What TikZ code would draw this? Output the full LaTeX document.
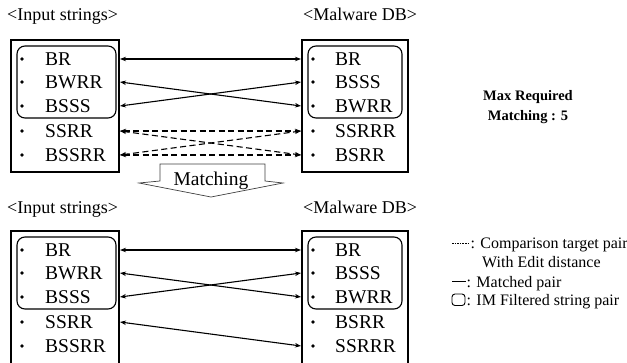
\documentclass[tikz,border=0pt]{standalone}
\usepackage{fontspec}
\setmainfont{Liberation Serif}
\usetikzlibrary{arrows.meta}

\tikzset{
  frame/.style={draw, line width=1.6pt},
  imbox/.style={draw, line width=1.1pt, rounded corners=8pt},
  item/.style={anchor=base west, inner sep=0pt, font=\fontsize{19.5}{20}\selectfont},
  heading/.style={anchor=base west, inner sep=0pt, font=\fontsize{18}{20}\selectfont},
  legend/.style={anchor=base west, inner sep=0pt, font=\fontsize{16}{18}\selectfont},
  tip/.tip={Stealth[length=6pt,width=4.5pt]},
  pair/.style={line width=1.1pt, tip-tip},
  cand/.style={pair, dash pattern=on 6pt off 3.5pt},
  dot/.style={circle, fill, inner sep=0pt, minimum size=3.8pt},
}

\begin{document}
\begin{tikzpicture}[x=1pt, y=-1pt]
\useasboundingbox (0,0) rectangle (627,362);

% ---------- upper panel: before matching ----------
\node[heading] (tin) at (7,20) {<Input strings>};
\node[heading] (tdb) at (303,20) {<Malware DB>};
\draw[frame] (11,40) rectangle (119,172);
\draw[frame] (302,40) rectangle (408,172);
\draw[imbox] (17,46) rectangle (116,118);
\draw[imbox] (308,46) rectangle (402,118);
\foreach \i/\y/\l/\r in {1/59/BR/BR, 2/82/BWRR/BSSS, 3/106/BSSS/BWRR, 4/131/SSRR/SSRRR, 5/155/BSSRR/BSRR}{
  \node[dot] (tdl\i) at (22,\y) {};
  \node[dot] (tdr\i) at (313,\y) {};
  \node[item] (til\i) at (45,\y+6.5) {\l};
  \node[item] (tir\i) at (335,\y+6.5) {\r};
  \coordinate (tL\i) at (120,\y);
  \coordinate (tR\i) at (301,\y);
}
\draw[pair] (tL1) -- (tR1);
\draw[pair] (tL2) -- (tR3);
\draw[pair] (tL3) -- (tR2);
\draw[cand] (tL4) -- (tR4);
\draw[cand] (tL4) -- (tR5);
\draw[cand] (tL5) -- (tR5);
\draw[cand] (tL5) -- (tR4);

\node[font=\bfseries\fontsize{14.5}{20}\selectfont, align=center] (maxreq) at (528,107) {Max Required\\Matching : 5};

% ---------- matching arrow ----------
\draw[line width=0.7pt, draw=black!75, fill=white]
  (160,181) -- (160,164) -- (265,164) -- (265,181) -- (283,183) -- (211,197)
  -- (139,183) -- cycle;
\node[font=\fontsize{19.5}{20}\selectfont, inner sep=0pt] (match) at (211,181) {Matching};

% ---------- lower panel: after matching ----------
\node[heading] (bin) at (7,213) {<Input strings>};
\node[heading] (bdb) at (303,213) {<Malware DB>};
\draw[frame] (11,365) -- (11,231) -- (119,231) -- (119,365);
\draw[frame] (302,365) -- (302,231) -- (408,231) -- (408,365);
\draw[imbox] (17,237) rectangle (116,309);
\draw[imbox] (308,237) rectangle (402,309);
\foreach \i/\y/\l/\r in {1/250/BR/BR, 2/273/BWRR/BSSS, 3/297/BSSS/BWRR, 4/322/SSRR/BSRR, 5/346/BSSRR/SSRRR}{
  \node[dot] (bdl\i) at (22,\y) {};
  \node[dot] (bdr\i) at (313,\y) {};
  \node[item] (bil\i) at (45,\y+6.5) {\l};
  \node[item] (bir\i) at (335,\y+6.5) {\r};
  \coordinate (bL\i) at (120,\y);
  \coordinate (bR\i) at (301,\y);
}
\draw[pair] (bL1) -- (bR1);
\draw[pair] (bL2) -- (bR3);
\draw[pair] (bL3) -- (bR2);
\draw[pair] (bL4) -- (bR5);

% ---------- legend ----------
\coordinate (ka) at (452,243);
\coordinate (kb) at (469,243);
\draw[line width=0.6pt, dash pattern=on 1.6pt off 1pt] (ka) -- (kb);
\node[legend] (k1) at (470.5,248.5) {: Comparison target pair};
\node[legend] (k2) at (482,267.5) {With Edit distance};
\coordinate (kc) at (452,281.5);
\coordinate (kd) at (466,281.5);
\draw[line width=0.8pt] (kc) -- (kd);
\node[legend] (k3) at (466.5,287) {: Matched pair};
\draw[line width=0.9pt, rounded corners=3pt] (452,294) rectangle (465,305.5);
\node[legend] (k4) at (466.5,305.5) {: IM Filtered string pair};
\end{tikzpicture}
\end{document}
